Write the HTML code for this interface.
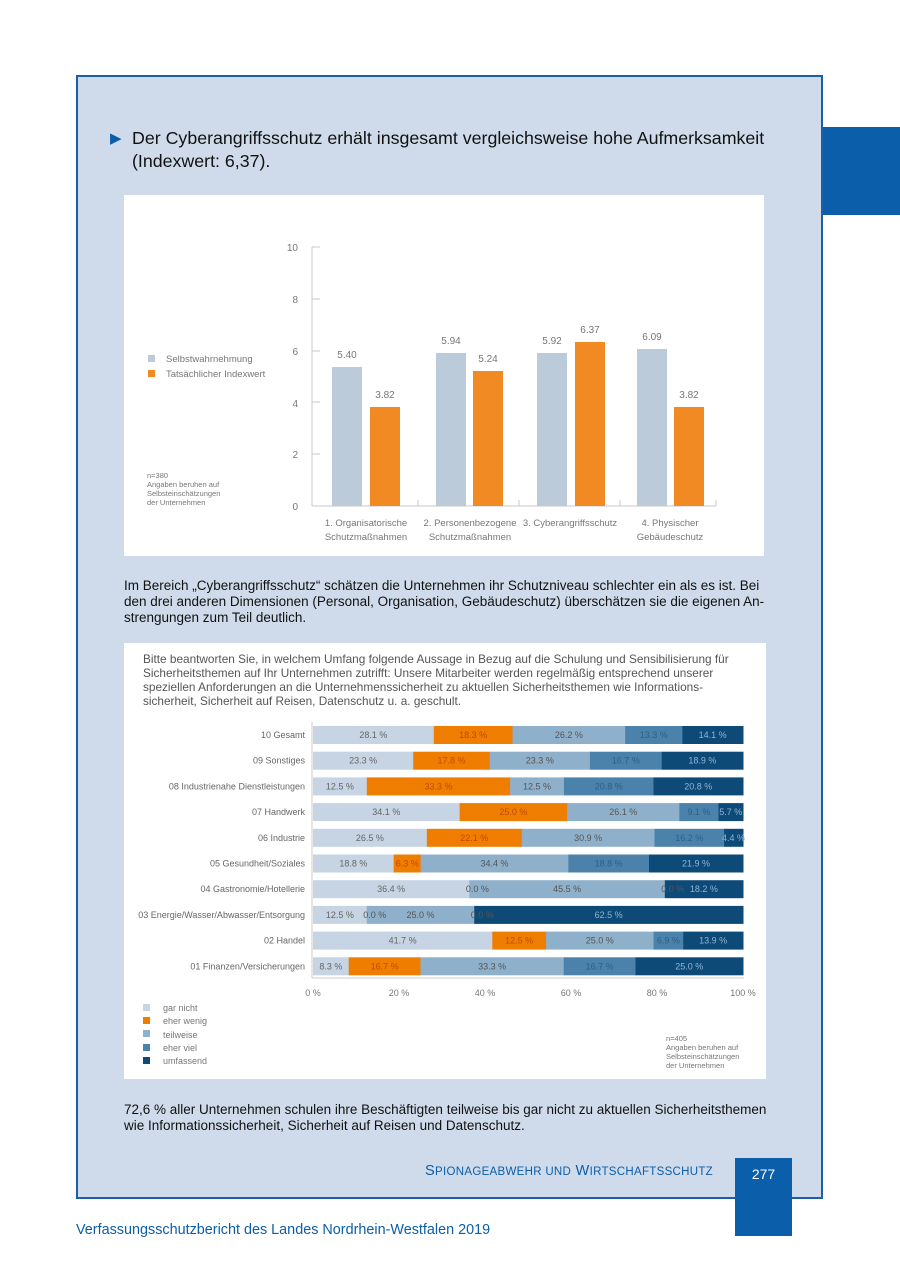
<!DOCTYPE html>
<html><head><meta charset="utf-8"><style>
body{margin:0;width:900px;height:1276px;background:#fff;position:relative;font-family:"Liberation Sans",sans-serif;overflow:hidden}
.frame{position:absolute;left:76px;top:75px;width:743px;height:1120px;border:2px solid #1d5fa6;background:#cfdbeb}
.abs{position:absolute}
.p{white-space:nowrap;font-size:13.5px;line-height:16px;color:#111;letter-spacing:0px}
</style></head><body>
<div class="frame"></div>
<div class="abs" style="left:823px;top:127px;width:77px;height:88px;background:#0b5ea9"></div>
<div class="abs" style="left:110px;top:127px;width:700px;font-size:17.8px;line-height:23px;color:#111"><span style="color:#0b5ea9;position:absolute;left:0;top:0;font-size:15px">▶</span><div style="padding-left:22px">Der Cyberangriffsschutz erhält insgesamt vergleichsweise hohe Aufmerksamkeit<br>(Indexwert: 6,37).</div></div>

<svg class="abs" style="left:124px;top:195px" width="640" height="361" viewBox="124 195 640 361">
<rect x="124" y="195" width="640" height="361" fill="#fff"/>
<g font-family="Liberation Sans" font-size="10" fill="#777">
<line x1="312" y1="247" x2="312" y2="506" stroke="#c8c8c8"/>
<line x1="312" y1="506" x2="716" y2="506" stroke="#c8c8c8"/>
<g stroke="#c8c8c8"><line x1="312" x2="320" y1="247" y2="247"/><line x1="312" x2="320" y1="299" y2="299"/><line x1="312" x2="320" y1="351" y2="351"/><line x1="312" x2="320" y1="402" y2="402"/><line x1="312" x2="320" y1="454" y2="454"/><line x1="418" x2="418" y1="500" y2="506"/><line x1="519" x2="519" y1="500" y2="506"/><line x1="620" x2="620" y1="500" y2="506"/><line x1="716" x2="716" y1="500" y2="506"/></g>
<text x="298" y="251" text-anchor="end">10</text><text x="298" y="303" text-anchor="end">8</text><text x="298" y="355" text-anchor="end">6</text><text x="298" y="407" text-anchor="end">4</text><text x="298" y="458" text-anchor="end">2</text><text x="298" y="510" text-anchor="end">0</text>
<rect x="332" y="367" width="30" height="139" fill="#bccbd9"/><rect x="370" y="407" width="30" height="99" fill="#f28a24"/>
<rect x="436" y="353" width="30" height="153" fill="#bccbd9"/><rect x="473" y="371" width="30" height="135" fill="#f28a24"/>
<rect x="537" y="353" width="30" height="153" fill="#bccbd9"/><rect x="575" y="342" width="30" height="164" fill="#f28a24"/>
<rect x="637" y="349" width="30" height="157" fill="#bccbd9"/><rect x="674" y="407" width="30" height="99" fill="#f28a24"/>
<text x="347" y="358" text-anchor="middle">5.40</text><text x="385" y="398" text-anchor="middle">3.82</text>
<text x="451" y="344" text-anchor="middle">5.94</text><text x="488" y="362" text-anchor="middle">5.24</text>
<text x="552" y="344" text-anchor="middle">5.92</text><text x="590" y="333" text-anchor="middle">6.37</text>
<text x="652" y="340" text-anchor="middle">6.09</text><text x="689" y="398" text-anchor="middle">3.82</text>
<text font-size="9.5" text-anchor="middle"><tspan x="366" y="526">1. Organisatorische</tspan><tspan x="366" y="540">Schutzmaßnahmen</tspan><tspan x="470" y="526">2. Personenbezogene</tspan><tspan x="470" y="540">Schutzmaßnahmen</tspan><tspan x="570" y="526">3. Cyberangriffsschutz</tspan><tspan x="670" y="526">4. Physischer</tspan><tspan x="670" y="540">Gebäudeschutz</tspan></text>
<rect x="148" y="355" width="7" height="7" fill="#bccbd9"/><rect x="148" y="370" width="7" height="7" fill="#f28a24"/>
<text x="166" y="362" font-size="9.5">Selbstwahrnehmung</text><text x="166" y="377" font-size="9.5">Tatsächlicher Indexwert</text>
<text font-size="7.5"><tspan x="147" y="478">n=380</tspan><tspan x="147" y="487">Angaben beruhen auf</tspan><tspan x="147" y="496">Selbsteinschätzungen</tspan><tspan x="147" y="505">der Unternehmen</tspan></text>
</g></svg>

<div class="abs p" style="left:124px;top:578px">Im Bereich „Cyberangriffsschutz“ schätzen die Unternehmen ihr Schutzniveau schlechter ein als es ist. Bei<br>den drei anderen Dimensionen (Personal, Organisation, Gebäudeschutz) überschätzen sie die eigenen An-<br>strengungen zum Teil deutlich.</div>

<svg class="abs" id="c2" style="left:124px;top:643px" width="642" height="436" viewBox="124 643 642 436">
<rect x="124" y="643" width="642" height="436" fill="#fff"/>
<text font-family="Liberation Sans" font-size="11.8" fill="#555"><tspan x="143" y="663">Bitte beantworten Sie, in welchem Umfang folgende Aussage in Bezug auf die Schulung und Sensibilisierung für</tspan><tspan x="143" y="677">Sicherheitsthemen auf Ihr Unternehmen zutrifft:  Unsere Mitarbeiter werden regelmäßig entsprechend unserer</tspan><tspan x="143" y="691">speziellen Anforderungen an die Unternehmenssicherheit zu aktuellen Sicherheitsthemen wie Informations-</tspan><tspan x="143" y="705">sicherheit, Sicherheit auf Reisen, Datenschutz u. a. geschult.</tspan></text>
<g id="bars" font-family="Liberation Sans" font-size="9"></g>
<line x1="312" y1="722" x2="312" y2="978" stroke="#ccc"/>
<line x1="312" y1="978" x2="744" y2="978" stroke="#ccc"/>
<g font-family="Liberation Sans" font-size="9" fill="#777" text-anchor="middle"><text x="313" y="996">0 %</text><text x="399" y="996">20 %</text><text x="485" y="996">40 %</text><text x="571" y="996">60 %</text><text x="657" y="996">80 %</text><text x="743" y="996">100 %</text></g>
<g font-family="Liberation Sans" font-size="9" fill="#777">
<rect x="143" y="1004" width="7" height="7" fill="#c6d4e3"/><text x="163" y="1011">gar nicht</text>
<rect x="143" y="1017" width="7" height="7" fill="#ef7d00"/><text x="163" y="1024">eher wenig</text>
<rect x="143" y="1030" width="7" height="7" fill="#8fb0cb"/><text x="163" y="1038">teilweise</text>
<rect x="143" y="1044" width="7" height="7" fill="#4a82ab"/><text x="163" y="1051">eher viel</text>
<rect x="143" y="1057" width="7" height="7" fill="#0e4a78"/><text x="163" y="1064">umfassend</text>
<text font-size="7.5"><tspan x="666" y="1041">n=405</tspan><tspan x="666" y="1050">Angaben beruhen auf</tspan><tspan x="666" y="1059">Selbsteinschätzungen</tspan><tspan x="666" y="1068">der Unternehmen</tspan></text>
</g>
</svg>

<div class="abs p" style="left:124px;top:1102px">72,6 % aller Unternehmen schulen ihre Beschäftigten teilweise bis gar nicht zu aktuellen Sicherheitsthemen<br>wie Informationssicherheit, Sicherheit auf Reisen und Datenschutz.</div>
<div class="abs" style="left:425px;top:1163px;font-size:14.6px;color:#0b5ea9;letter-spacing:0.3px">S<span style="font-size:11.5px">PIONAGEABWEHR UND</span> W<span style="font-size:11.5px">IRTSCHAFTSSCHUTZ</span></div>
<div class="abs" style="left:735px;top:1158px;width:57px;height:78px;background:#0b5ea9;color:#fff;font-size:14px;text-align:center;line-height:32px">277</div>
<div class="abs" style="left:76px;top:1222px;font-size:14.4px;color:#0b5ea9">Verfassungsschutzbericht des Landes Nordrhein-Westfalen 2019</div>

<script>
var rows=[["10 Gesamt",[28.1,18.3,26.2,13.3,14.1]],["09 Sonstiges",[23.3,17.8,23.3,16.7,18.9]],["08 Industrienahe Dienstleistungen",[12.5,33.3,12.5,20.8,20.8]],["07 Handwerk",[34.1,25.0,26.1,9.1,5.7]],["06 Industrie",[26.5,22.1,30.9,16.2,4.4]],["05 Gesundheit/Soziales",[18.8,6.3,34.4,18.8,21.9]],["04 Gastronomie/Hotellerie",[36.4,0.0,45.5,0.0,18.2]],["03 Energie/Wasser/Abwasser/Entsorgung",[12.5,0.0,25.0,0.0,62.5]],["02 Handel",[41.7,12.5,25.0,6.9,13.9]],["01 Finanzen/Versicherungen",[8.3,16.7,33.3,16.7,25.0]]];
var cols=["#c6d4e3","#ef7d00","#8fb0cb","#4a82ab","#0e4a78"],tc=["#666","#c04a00","#555","#2e5f85","#8fb4d4"];
var g=document.getElementById("bars"),s="",t="";
rows.forEach(function(r,i){var yc=735+i*25.7,x=313,sum=r[1].reduce(function(a,b){return a+b},0);
s+='<text x="305" y="'+(yc+3)+'" text-anchor="end" fill="#666">'+r[0]+'</text>';
r[1].forEach(function(v,j){var w=v/sum*430;
if(w>0)s+='<rect x="'+x+'" y="'+(yc-9)+'" width="'+(w+0.5)+'" height="18" fill="'+cols[j]+'"/>';
var lx=x+w/2;if(w==0)lx=x+8;
t+='<text x="'+lx+'" y="'+(yc+3)+'" text-anchor="middle" fill="'+(w==0?'#555':tc[j])+'">'+v.toFixed(1)+' %</text>';x+=w;});});
g.innerHTML=s+t;
</script>
</body></html>
